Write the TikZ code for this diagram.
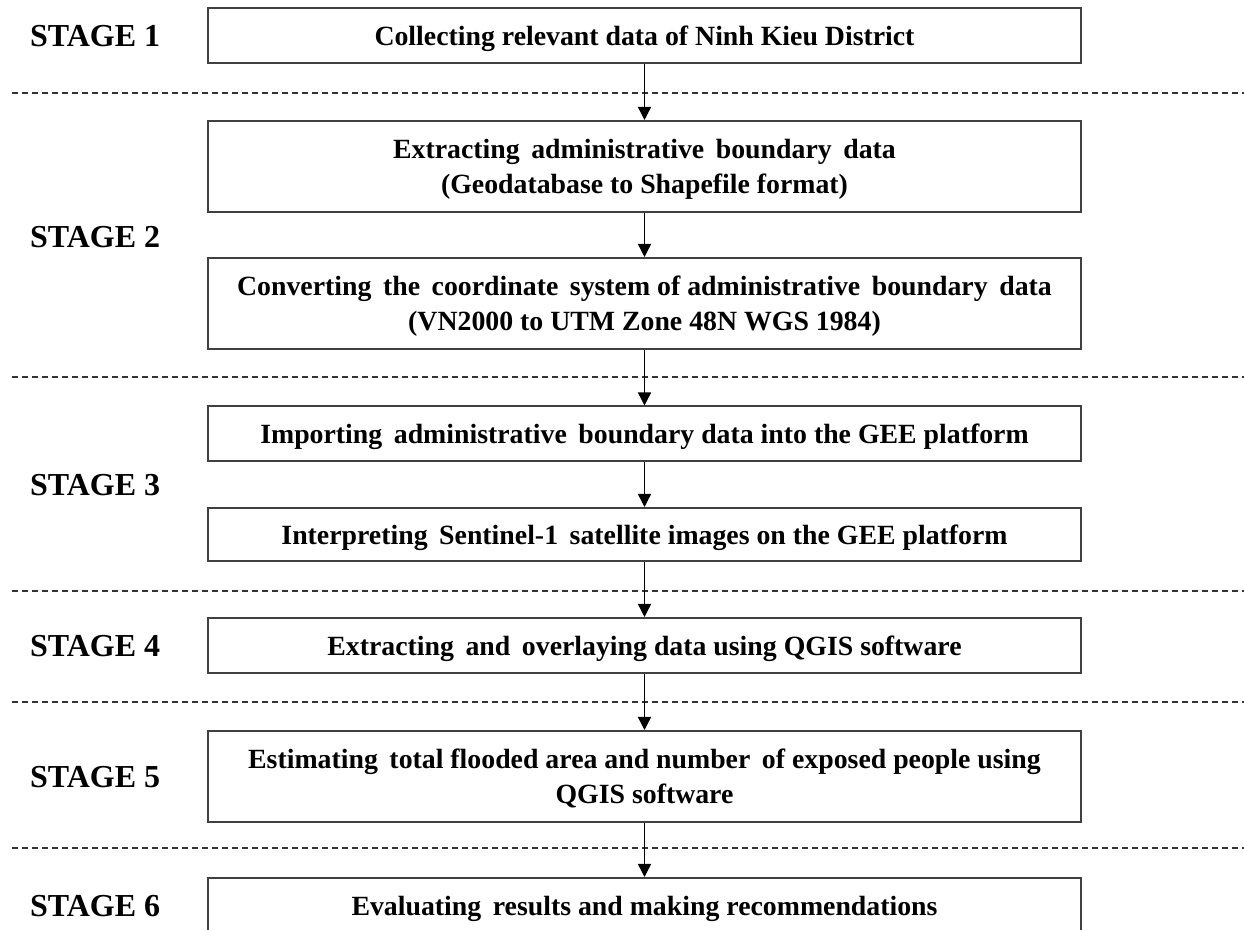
\documentclass[tikz,border=0pt]{standalone}
\usepackage{fontspec}
\setmainfont{Liberation Serif}
\usepackage{tikz}
\usetikzlibrary{arrows.meta}

\begin{document}
\begin{tikzpicture}[x=0.5pt, y=-0.5pt,
    stepbox/.style={draw=black!75, line width=1pt, rectangle, minimum width=436.5pt, text depth=0pt, align=center, font=\fontsize{13.9}{17.5}\selectfont\bfseries},
    stagelabel/.style={anchor=west, font=\fontsize{16}{19}\selectfont\bfseries},
    sep/.style={dash pattern=on 3pt off 2pt, line width=0.6pt, black!80},
    flow/.style={-{Triangle[length=6.5pt, width=6.5pt]}, line width=0.7pt}]

\useasboundingbox (0,0) rectangle (1244,930);
\clip (0,0) rectangle (1244,930);

% stage labels

\node[stagelabel] (s1) at (23, 36) {STAGE 1};
\node[stagelabel] (s2) at (23, 237) {STAGE 2};
\node[stagelabel] (s3) at (23, 485) {STAGE 3};
\node[stagelabel] (s4) at (23, 646) {STAGE 4};
\node[stagelabel] (s5) at (23, 777) {STAGE 5};
\node[stagelabel] (s6) at (23, 906) {STAGE 6};

% process boxes

\node[stepbox, minimum height=27.5pt] (b1) at (644.5, 35.5) {Collecting relevant data of Ninh Kieu District};
\node[stepbox, minimum height=45.5pt] (b2) at (644.5, 166.5) {Extracting\, administrative\, boundary\, data\\(Geodatabase to Shapefile format)};
\node[stepbox, minimum height=45.5pt] (b3) at (644.5, 303.5) {Converting\, the\, coordinate\, system of administrative\, boundary\, data\\(VN2000 to UTM Zone 48N WGS 1984)};
\node[stepbox, minimum height=27.5pt] (b4) at (644.5, 434) {Importing\, administrative\, boundary data into the GEE platform};
\node[stepbox, minimum height=26.5pt] (b5) at (644.5, 534.5) {Interpreting\, Sentinel-1\, satellite images on the GEE platform};
\node[stepbox, minimum height=27.5pt] (b6) at (644.5, 645.5) {Extracting\, and\, overlaying data using QGIS software};
\node[stepbox, minimum height=45.5pt] (b7) at (644.5, 776.5) {Estimating\, total flooded area and number\, of exposed people using\\QGIS software};
\node[stepbox, minimum height=27.5pt] (b8) at (644.5, 905.5) {Evaluating\, results and making recommendations};

% stage separators

\draw[sep] (12, 93) -- (1244, 93);
\draw[sep] (12, 377) -- (1244, 377);
\draw[sep] (12, 591) -- (1244, 591);
\draw[sep] (12, 702) -- (1244, 702);
\draw[sep] (12, 848) -- (1244, 848);

% box to box
\draw[flow] (b1) -- (b2);
\draw[flow] (b2) -- (b3);
\draw[flow] (b3) -- (b4);
\draw[flow] (b4) -- (b5);
\draw[flow] (b5) -- (b6);
\draw[flow] (b6) -- (b7);
\draw[flow] (b7) -- (b8);

\end{tikzpicture}
\end{document}
